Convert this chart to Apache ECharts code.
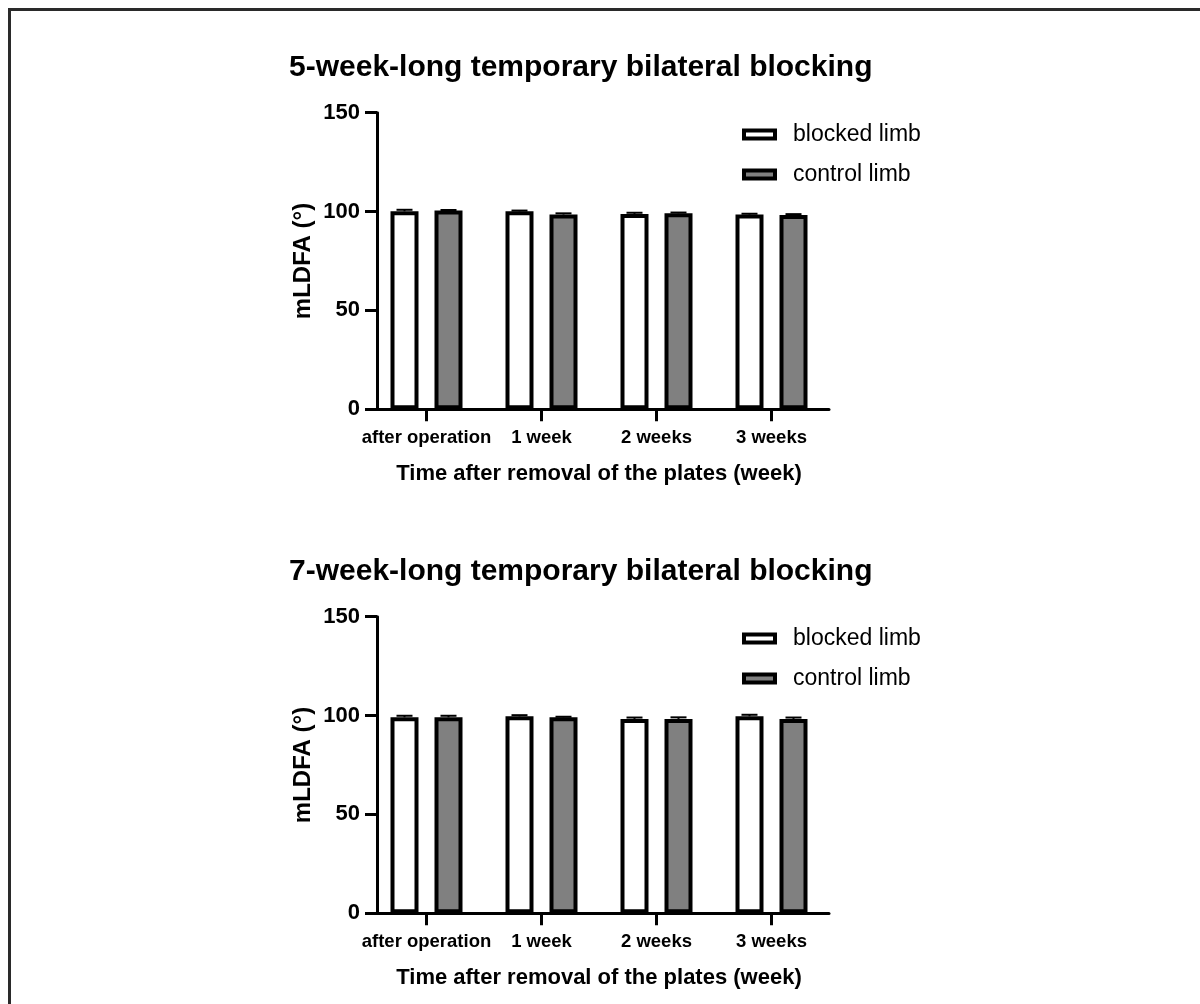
<!DOCTYPE html>
<html>
<head>
<meta charset="utf-8">
<script src="https://cdn.jsdelivr.net/npm/echarts@6/dist/echarts.min.js"></script>
<style>
html,body{margin:0;padding:0;background:#fff;}
#main{width:1200px;height:1004px;}
</style>
</head>
<body>
<div id="main"></div>
<script>
const categories = ['after operation', '1 week', '2 weeks', '3 weeks'];
const yTicks = [0, 50, 100, 150];
const titles = ['5-week-long temporary bilateral blocking', '7-week-long temporary bilateral blocking'];
const seriesNames = ['blocked limb', 'control limb'];
// 5-week panel
const blocked5 = [100.1, 100.1, 98.8, 98.5];
const blocked5Err = [0.8, 0.4, 0.6, 0.4];
const control5 = [100.5, 98.5, 99.1, 98.3];
const control5Err = [0.3, 0.6, 0.4, 0.4];
// 7-week panel
const blocked7 = [99.1, 99.6, 98.3, 99.6];
const blocked7Err = [0.8, 0.6, 0.7, 0.8];
const control7 = [99.1, 99.1, 98.3, 98.3];
const control7Err = [0.8, 0.3, 0.8, 0.7];

const FONT = '"Liberation Sans", Arial, Helvetica, sans-serif';
const BAR_W = 28;
const BAR_GAP_PX = 16;
const HALF_OFF = (BAR_W + BAR_GAP_PX) / 2;
const GRAY = '#808080';

const grids = [
  { left: 369, top: 112.7, width: 460, height: 296.6 },
  { left: 369, top: 616.7, width: 460, height: 296.6 }
];

function xAxisFor(i) {
  return {
    type: 'category', gridIndex: i, data: categories,
    axisLine: { show: true, lineStyle: { color: '#000', width: 3 } },
    axisTick: { show: true, alignWithLabel: true, length: 12, lineStyle: { color: '#000', width: 3 } },
    axisLabel: { interval: 0, color: '#000', fontFamily: FONT, fontWeight: 'bold', fontSize: 18.5, margin: 19 },
    name: 'Time after removal of the plates (week)',
    nameLocation: 'middle', nameGap: 54,
    nameTextStyle: { color: '#000', fontFamily: FONT, fontWeight: 'bold', fontSize: 22 }
  };
}
function yAxisFor(i) {
  return {
    type: 'value', gridIndex: i, min: yTicks[0], max: yTicks[yTicks.length - 1], interval: 50,
    offset: -8,
    splitLine: { show: false },
    axisLine: { show: true, onZero: false, lineStyle: { color: '#000', width: 3 } },
    axisTick: { show: true, length: 12, lineStyle: { color: '#000', width: 3 } },
    axisLabel: { color: '#000', fontFamily: FONT, fontWeight: 'bold', fontSize: 22, margin: 17 },
    name: 'mLDFA (°)', nameLocation: 'middle', nameGap: 62,
    nameTextStyle: { color: '#000', fontFamily: FONT, fontWeight: 'bold', fontSize: 24 }
  };
}

function barSeries(name, data, i, fill) {
  return {
    type: 'bar', name: name, data: data, xAxisIndex: i, yAxisIndex: i,
    barWidth: BAR_W, barGap: (BAR_GAP_PX / BAR_W * 100) + '%',
    itemStyle: { color: fill, borderColor: '#000', borderWidth: 4 },
    z: 2
  };
}
function errSeries(vals, errs, i, dir) {
  return {
    type: 'custom', xAxisIndex: i, yAxisIndex: i, z: 3, silent: true,
    data: vals.map((v, k) => [k, v, errs[k]]),
    renderItem: function (params, api) {
      const k = api.value(0), v = api.value(1), e = api.value(2);
      const p0 = api.coord([k, v]);
      const p1 = api.coord([k, v + e]);
      const x = p0[0] + dir * HALF_OFF;
      const cw = 8;
      return {
        type: 'group',
        children: [
          { type: 'line', shape: { x1: x, y1: p0[1], x2: x, y2: p1[1] }, style: { stroke: '#000', lineWidth: 2 } },
          { type: 'line', shape: { x1: x - cw, y1: p1[1], x2: x + cw, y2: p1[1] }, style: { stroke: '#000', lineWidth: 2 } }
        ]
      };
    }
  };
}

function legendFor(top) {
  return {
    orient: 'vertical', left: 742, top: top, padding: 0,
    data: seriesNames.map(n => ({ name: n, icon: 'rect' })),
    itemWidth: 31, itemHeight: 8, itemGap: 17,
    itemStyle: { borderColor: '#000', borderWidth: 4 },
    textStyle: { color: '#000', fontFamily: FONT, fontSize: 23, padding: [0, 0, 0, 13] },
    selectedMode: false
  };
}

const option = {
  backgroundColor: '#fff',
  animation: false,
  title: [
    { text: titles[0], left: 284, top: 48, textStyle: { color: '#000', fontFamily: FONT, fontWeight: 'bold', fontSize: 30 } },
    { text: titles[1], left: 284, top: 552, textStyle: { color: '#000', fontFamily: FONT, fontWeight: 'bold', fontSize: 30 } }
  ],
  legend: [legendFor(123), legendFor(627)],
  grid: grids,
  xAxis: [xAxisFor(0), xAxisFor(1)],
  yAxis: [yAxisFor(0), yAxisFor(1)],
  series: [
    barSeries(seriesNames[0], blocked5, 0, '#fff'),
    barSeries(seriesNames[1], control5, 0, GRAY),
    errSeries(blocked5, blocked5Err, 0, -1),
    errSeries(control5, control5Err, 0, 1),
    barSeries(seriesNames[0], blocked7, 1, '#fff'),
    barSeries(seriesNames[1], control7, 1, GRAY),
    errSeries(blocked7, blocked7Err, 1, -1),
    errSeries(control7, control7Err, 1, 1)
  ],
  graphic: [
    { type: 'line', shape: { x1: 8, y1: 9.5, x2: 1200, y2: 9.5 }, style: { stroke: '#2a2a2a', lineWidth: 3 } },
    { type: 'line', shape: { x1: 9.5, y1: 8, x2: 9.5, y2: 1004 }, style: { stroke: '#2a2a2a', lineWidth: 3 } }
  ]
};

const chart = echarts.init(document.getElementById('main'), null, { renderer: 'canvas' });
chart.setOption(option);
</script>
</body>
</html>
